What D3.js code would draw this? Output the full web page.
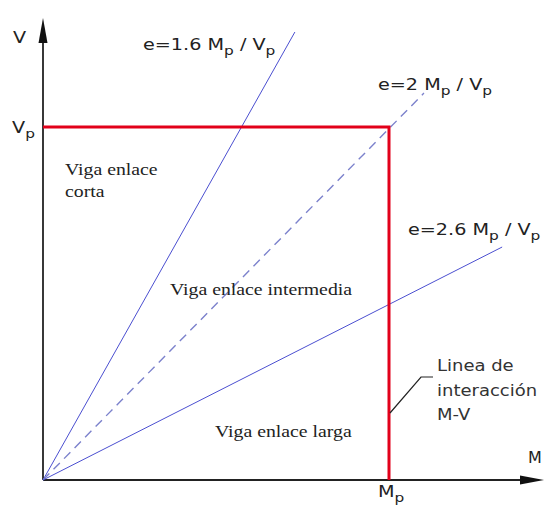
<!DOCTYPE html>
<html><head><meta charset="utf-8">
<script src="https://cdn.jsdelivr.net/npm/d3@7"></script>
<style>body{margin:0;background:#fff}
.sans{font-family:'DejaVu Sans',Verdana,sans-serif}
.serif{font-family:'Liberation Serif','Times New Roman',serif}
</style>
</head><body>
<svg id="c" width="544" height="508"></svg>
<script>
// Data (normalized: M/Mp, V/Vp)
const eLabels = ["1.6", "2", "2.6"];
const eEndM = [0.728, 1.101, 1.327];
const eEndV = [1.269, 1.096, 0.660];
const eDashed = [false, true, false];
const interM = [0, 1, 1];
const interV = [1, 1, 0];
const axisMaxM = 1.448;
const axisMaxV = 1.309;
const regionLabels = ["Viga enlace", "corta", "Viga enlace intermedia", "Viga enlace larga"];
const interLabel = ["Linea de", "interacción", "M-V"];
const tickLabels = ["V", "M"];

const svg = d3.select("#c");
const x = d3.scaleLinear().domain([0, 1]).range([43, 389]);
const y = d3.scaleLinear().domain([0, 1]).range([480, 127]);

// Axes
svg.append("line").attr("x1", x(0)).attr("y1", y(0)).attr("x2", x(0)).attr("y2", y(axisMaxV) + 20)
  .attr("stroke", "#222").attr("stroke-width", 1.8);
svg.append("line").attr("x1", x(0)).attr("y1", y(0)).attr("x2", x(axisMaxM) - 20).attr("y2", y(0))
  .attr("stroke", "#222").attr("stroke-width", 1.8);
const yt = y(axisMaxV), xt = x(axisMaxM);
svg.append("path").attr("d", `M${x(0)},${yt} L${x(0)-4.5},${yt+25} L${x(0)+4.5},${yt+25} Z`).attr("fill", "#111");
svg.append("path").attr("d", `M${xt},${y(0)} L${xt-24},${y(0)-4.5} L${xt-24},${y(0)+4.5} Z`).attr("fill", "#111");

// e lines
eLabels.forEach((e, i) => {
  svg.append("line").attr("x1", x(0)).attr("y1", y(0)).attr("x2", x(eEndM[i])).attr("y2", y(eEndV[i]))
    .attr("stroke", eDashed[i] ? "#7c82cc" : "#4b4fd0").attr("stroke-width", eDashed[i] ? 1.4 : 1)
    .attr("stroke-dasharray", eDashed[i] ? "9,6" : null);
});

// interaction line
svg.append("path").datum(interM.map((m, i) => [m, interV[i]]))
  .attr("d", d3.line().x(d => x(d[0])).y(d => y(d[1])))
  .attr("fill", "none").attr("stroke", "#e2001a").attr("stroke-width", 3);

// leader line
svg.append("path").attr("d", "M433,377 L421,377 L390,413").attr("fill", "none").attr("stroke", "#222").attr("stroke-width", 1.2);

function txt(cls, xx, yy, size, sx, fill) {
  return svg.append("text").attr("class", cls)
    .attr("transform", `translate(${xx},${yy}) scale(${sx},1)`)
    .attr("font-size", size).attr("fill", fill || "#222");
}
function sub(xx, yy, parts, size, sx) {
  const tx = txt("sans", xx, yy, size, sx);
  parts.forEach(p => {
    if (p.s) tx.append("tspan").attr("font-size", size * 0.8).attr("dy", 5).text(p.t);
    else tx.append("tspan").attr("dy", p.up ? -5 : 0).text(p.t);
  });
  return tx;
}
function eLabel(e, xx, yy) {
  sub(xx, yy, [{t: "e=" + e + " M"}, {t: "p", s: true}, {t: " / V", up: true}, {t: "p", s: true}], 16, 1.2);
}
eLabel(eLabels[0], 143, 50);
eLabel(eLabels[1], 378, 90);
eLabel(eLabels[2], 408, 235);

txt("sans", 13, 43, 16, 1.2).text(tickLabels[0]);
txt("sans", 528, 463, 16, 1.0).text(tickLabels[1]);
sub(12, 133, [{t: "V"}, {t: "p", s: true}], 16, 1.2);
sub(378, 497, [{t: "M"}, {t: "p", s: true}], 16, 1.2);

const rl = [[65, 175], [65, 197], [170, 295], [215, 437]];
regionLabels.forEach((t, i) => {
  txt("serif", rl[i][0], rl[i][1], 17.5, 1.13).text(t);
});

interLabel.forEach((t, i) => {
  txt("sans", 437, 371 + i * 24.5, 15, 1.2, "#333").text(t);
});
</script>
</body></html>
